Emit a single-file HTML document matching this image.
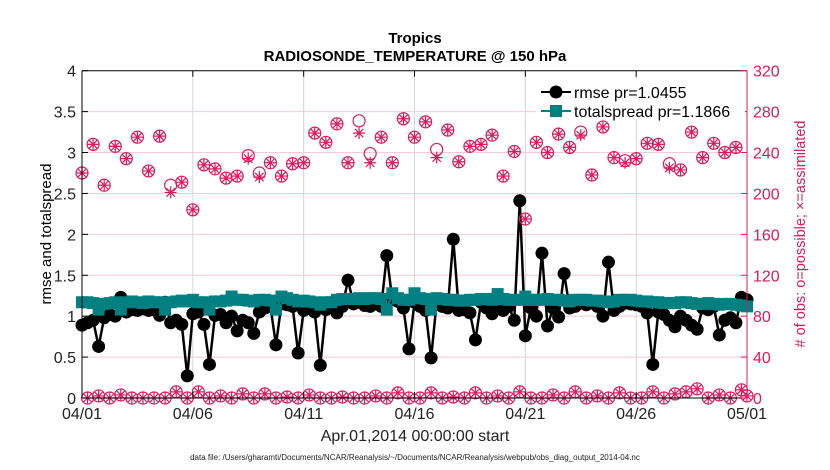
<!DOCTYPE html>
<html><head><meta charset="utf-8"><style>
body{margin:0;background:#fff;}
svg{display:block;font-family:"Liberation Sans",sans-serif;}
</style></head><body>
<svg id="chart" width="830" height="470" viewBox="0 0 830 470">
<rect width="830" height="470" fill="#fff"/>
<text x="415" y="43" text-anchor="middle" font-size="15" font-weight="bold">Tropics</text>
<text x="415" y="61" text-anchor="middle" font-size="15" font-weight="bold">RADIOSONDE_TEMPERATURE @ 150 hPa</text>
<g id="grid"></g>
<g id="plot"></g>
<g id="axes"></g>
<g>
<rect x="536" y="79" width="209" height="40" fill="#fff"/>
<line x1="541" y1="92" x2="571" y2="92" stroke="#000" stroke-width="2"/>
<circle cx="556" cy="92" r="6.5" fill="#000"/>
<text x="574" y="98" font-size="16">rmse pr=1.0455</text>
<line x1="541" y1="111" x2="571" y2="111" stroke="#008080" stroke-width="2"/>
<rect x="550" y="105" width="12" height="12" fill="#008080"/>
<text x="574" y="117" font-size="16">totalspread pr=1.1866</text>
</g>
<text transform="translate(51,234) rotate(-90)" text-anchor="middle" font-size="15">rmse and totalspread</text>
<text transform="translate(805,234) rotate(-90)" text-anchor="middle" font-size="14.5" fill="#e0195c"># of obs: o=possible; ×=assimilated</text>
<text x="415" y="441" text-anchor="middle" font-size="16" fill="#222">Apr.01,2014 00:00:00 start</text>
<text x="415" y="460" text-anchor="middle" font-size="8" fill="#222">data file: /Users/gharamti/Documents/NCAR/Reanalysis/~/Documents/NCAR/Reanalysis/webpub/obs_diag_output_2014-04.nc</text>
</svg>
<script>
const xTickLabels=["04/01","04/06","04/11","04/16","04/21","04/26","05/01"];
const yLeftTicks=[0,0.5,1,1.5,2,2.5,3,3.5,4];
const yRightTicks=[0,40,80,120,160,200,240,280,320];
const rmse=[0.89,0.92,0.95,0.63,0.98,1.02,1.0,1.23,1.05,1.08,1.07,1.09,1.07,1.08,1.01,1.17,0.92,0.95,0.9,0.27,1.03,1.05,0.9,0.41,1.01,1.02,0.92,1.0,0.82,0.95,0.92,0.79,1.05,1.1,1.12,0.65,1.15,1.14,1.12,0.55,1.07,1.1,1.05,0.4,1.08,1.1,1.04,1.12,1.44,1.15,1.17,1.13,1.12,1.15,1.12,1.74,1.2,1.18,1.1,0.6,1.17,1.12,1.07,0.49,1.17,1.12,1.1,1.94,1.07,1.08,1.04,0.71,1.17,1.1,1.03,1.12,1.07,1.12,0.95,2.41,0.76,1.1,1.0,1.77,0.88,1.1,0.99,1.52,1.1,1.12,1.16,1.14,1.16,1.12,1.0,1.66,1.07,1.12,1.16,1.15,1.14,1.12,1.04,0.41,1.05,1.02,0.95,0.87,1.0,0.95,0.89,0.84,1.1,1.08,1.12,0.77,0.95,0.98,0.92,1.23,1.2];
const spread=[1.17,1.17,1.16,1.08,1.15,1.16,1.17,1.08,1.17,1.18,1.17,1.16,1.18,1.17,1.17,1.08,1.17,1.18,1.19,1.18,1.2,1.17,1.17,1.08,1.18,1.18,1.19,1.24,1.2,1.2,1.19,1.18,1.2,1.2,1.19,1.08,1.24,1.22,1.2,1.18,1.19,1.18,1.17,1.14,1.17,1.17,1.2,1.21,1.21,1.21,1.22,1.21,1.22,1.22,1.21,1.08,1.28,1.22,1.2,1.2,1.28,1.22,1.21,1.08,1.22,1.21,1.2,1.2,1.19,1.19,1.2,1.2,1.21,1.21,1.2,1.27,1.21,1.2,1.2,1.2,1.24,1.2,1.2,1.2,1.21,1.2,1.2,1.19,1.18,1.2,1.2,1.2,1.19,1.19,1.18,1.17,1.18,1.2,1.2,1.2,1.19,1.18,1.18,1.17,1.17,1.16,1.16,1.16,1.17,1.17,1.16,1.15,1.15,1.16,1.15,1.14,1.15,1.15,1.14,1.13,1.12];
const possible=[220,0,248,2,208,0,246,3,234,0,255,0,222,0,256,0,208,6,211,0,184,6,228,0,224,2,215,0,217,4,237,0,220,4,230,0,217,1,229,0,230,3,259,0,250,0,268,1,230,0,271,0,239,2,255,0,230,5,273,0,255,0,270,5,243,0,262,1,231,0,246,5,248,0,257,2,217,0,241,6,175,0,250,0,240,3,258,0,245,6,260,0,218,2,265,0,235,5,232,0,234,0,249,6,248,0,229,4,223,6,260,9,235,0,249,3,240,0,245,8,2];
const assimilated=[220,0,248,2,208,0,246,3,234,0,255,0,222,0,256,0,201,6,211,0,184,6,228,0,224,2,215,0,217,4,234,0,216,4,230,0,217,1,229,0,230,3,259,0,250,0,268,1,230,0,259,0,230,2,255,0,230,5,273,0,255,0,270,5,235,0,262,1,231,0,246,5,248,0,257,2,217,0,241,6,175,0,250,0,240,3,258,0,245,6,257,0,218,2,265,0,235,5,230,0,234,0,249,6,248,0,225,4,223,6,260,9,235,0,249,3,240,0,245,8,2];

const NS="http://www.w3.org/2000/svg";
const L=82,R=747,T=70.7,B=398;
const nSteps=120;
function xOf(i){return L+(R-L)*i/nSteps;}
function yL(v){return B-(B-T)*v/4;}
function yR(v){return B-(B-T)*v/320;}
function mk(tag,attrs,parent){const e=document.createElementNS(NS,tag);for(const k in attrs)e.setAttribute(k,attrs[k]);parent.appendChild(e);return e;}
const grid=document.getElementById('grid'),plot=document.getElementById('plot'),axes=document.getElementById('axes');

yRightTicks.forEach((t,k)=>{
  if(k===0||k===yRightTicks.length-1)return;
  const g=mk('line',{x1:L,x2:R,y1:yR(t),y2:yR(t),stroke:'#f5c9d8','stroke-width':1},grid);
  
  
});
xTickLabels.forEach((lab,k)=>{
  const x=L+(R-L)*k/(xTickLabels.length-1);
  if(k>0&&k<xTickLabels.length-1){
    const g=mk('line',{x1:x,x2:x,y1:T,y2:B,stroke:'#d6d6d6','stroke-width':1},grid);
    
    
  }
  mk('line',{x1:x,x2:x,y1:B,y2:B-6,stroke:'#000'},axes);
  mk('line',{x1:x,x2:x,y1:T,y2:T+6,stroke:'#000'},axes);
  const t=mk('text',{x:x,y:B+21,'text-anchor':'middle','font-size':16,fill:'#222'},axes);
  t.textContent=lab;
  
  
});

let d='';rmse.forEach((v,i)=>{d+=(i?'L':'M')+xOf(i).toFixed(2)+','+yL(v).toFixed(2);});
const rl=mk('path',{d:d,fill:'none',stroke:'#000','stroke-width':2.5},plot);


rmse.forEach((v,i)=>{
  const c=mk('circle',{cx:xOf(i),cy:yL(v),r:6.5,fill:'#000'},plot);
  
  
});
d='';spread.forEach((v,i)=>{d+=(i?'L':'M')+xOf(i).toFixed(2)+','+yL(v).toFixed(2);});
const sl=mk('path',{d:d,fill:'none',stroke:'#008080','stroke-width':2.5},plot);


spread.forEach((v,i)=>{
  const s=mk('rect',{x:xOf(i)-6,y:yL(v)-6,width:12,height:12,fill:'#008080'},plot);
  
  
});
const PINK='#e0195c';
possible.forEach((v,i)=>{
  const c=mk('circle',{cx:xOf(i),cy:yR(v),r:6,fill:'none',stroke:PINK,'stroke-width':1.2},plot);
  
  
});
assimilated.forEach((v,i)=>{
  const x=xOf(i),y=yR(v),r=6;
  const a=r*0.707;
  const p=mk('path',{d:`M${x-r},${y}L${x+r},${y}M${x},${y-r}L${x},${y+r}M${x-a},${y-a}L${x+a},${y+a}M${x-a},${y+a}L${x+a},${y-a}`,stroke:PINK,'stroke-width':1.2,fill:'none'},plot);
  
  
});

mk('line',{x1:L,x2:R,y1:T,y2:T,stroke:'#000'},axes);
mk('line',{x1:L,x2:R,y1:B,y2:B,stroke:'#000'},axes);
mk('line',{x1:L,x2:L,y1:T,y2:B,stroke:'#000'},axes);
mk('line',{x1:R,x2:R,y1:T,y2:B,stroke:PINK},axes);
yLeftTicks.forEach(t=>{
  const y=yL(t);
  mk('line',{x1:L,x2:L+6,y1:y,y2:y,stroke:'#000'},axes);
  const tx=mk('text',{x:L-6,y:y+6,'text-anchor':'end','font-size':16,fill:'#222'},axes);
  tx.textContent=String(t);
  
  
});
yRightTicks.forEach(t=>{
  const y=yR(t);
  mk('line',{x1:R,x2:R-6,y1:y,y2:y,stroke:PINK},axes);
  const tx=mk('text',{x:R+6,y:y+6,'font-size':16,fill:PINK},axes);
  tx.textContent=String(t);
  
  
});
</script>
</body></html>
